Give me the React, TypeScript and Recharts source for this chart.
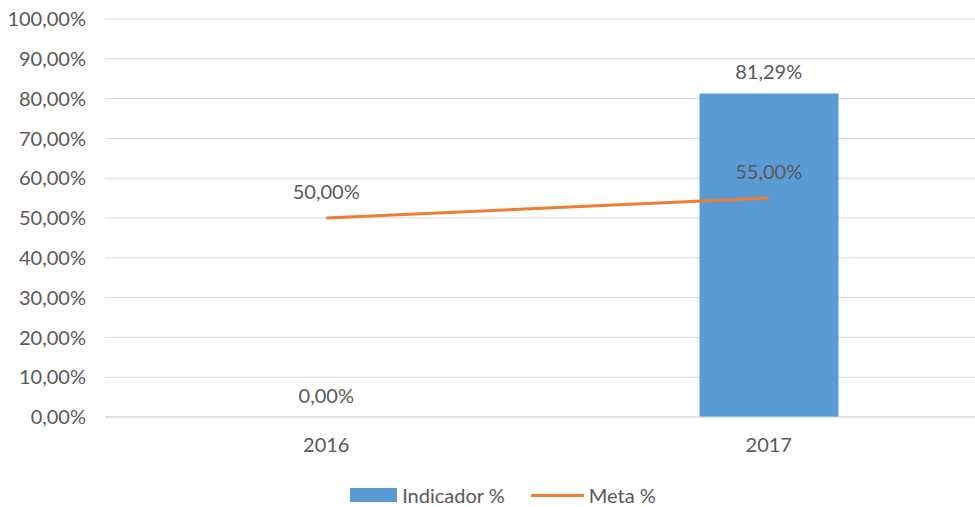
import { Bar, CartesianGrid, ComposedChart, LabelList, Legend, Line, XAxis, YAxis } from "recharts";

const years = ["2016", "2017"];
const indicador = [0, 81.29];
const meta = [50, 55];
const yTicks = [0, 10, 20, 30, 40, 50, 60, 70, 80, 90, 100];

const data = years.map((y, i) => ({ year: y, indicador: indicador[i], meta: meta[i] }));

const fmt = (v: number) => `${v.toFixed(2).replace(".", ",")}%`;
const FONT = "Lato, 'Open Sans', sans-serif";
const GREY = "#595959";

function LegendBox() {
  return (
    <div style={{ boxSizing: "border-box", display: "flex", justifyContent: "center", alignItems: "center", height: 30, fontFamily: FONT, fontSize: 20, color: GREY, paddingTop: 6, paddingLeft: 16 }}>
      <span style={{ display: "inline-block", width: 47, height: 14, background: "#5B9BD5", marginRight: 5 }} />
      <span>Indicador %</span>
      <span style={{ display: "inline-block", width: 53, height: 3, background: "#ED7D31", marginLeft: 26, marginRight: 5 }} />
      <span>Meta %</span>
    </div>
  );
}

export default function App() {
  return (
    <div style={{ position: "absolute", left: 0, top: 0, width: 975, height: 507, overflow: "hidden", background: "#fff" }}>
      <ComposedChart width={1000} height={507} data={data} margin={{ top: 19, right: 10, bottom: 0, left: 0 }}>
        <CartesianGrid vertical={false} stroke="#d9d9d9" />
        <XAxis
          dataKey="year"
          height={60}
          tickLine={false}
          axisLine={{ stroke: "#d9d9d9" }}
          tickMargin={15}
          tick={{ fill: GREY, fontSize: 20, fontFamily: FONT }}
        />
        <YAxis
          width={105}
          domain={[0, 100]}
          ticks={yTicks}
          tickFormatter={fmt}
          axisLine={false}
          tickLine={false}
          tickMargin={13}
          tick={{ fill: GREY, fontSize: 20, fontFamily: FONT }}
        />
        <Legend verticalAlign="bottom" content={() => <LegendBox />} />
        <Bar dataKey="indicador" name="Indicador %" fill="#5B9BD5" barSize={139} isAnimationActive={false} />
        {/* invisible series carrying the bar value labels, so the 0,00% label shows too */}
        <Line dataKey="indicador" stroke="none" dot={false} legendType="none" isAnimationActive={false}>
          <LabelList dataKey="indicador" position="top" offset={14} formatter={(v: any) => fmt(Number(v))} fill={GREY} fontSize={20} fontFamily={FONT} />
        </Line>
        <Line dataKey="meta" name="Meta %" stroke="#ED7D31" strokeWidth={3} dot={false} isAnimationActive={false}>
          <LabelList dataKey="meta" position="top" offset={19} formatter={(v: any) => fmt(Number(v))} fill={GREY} fontSize={20} fontFamily={FONT} />
        </Line>
      </ComposedChart>
    </div>
  );
}
